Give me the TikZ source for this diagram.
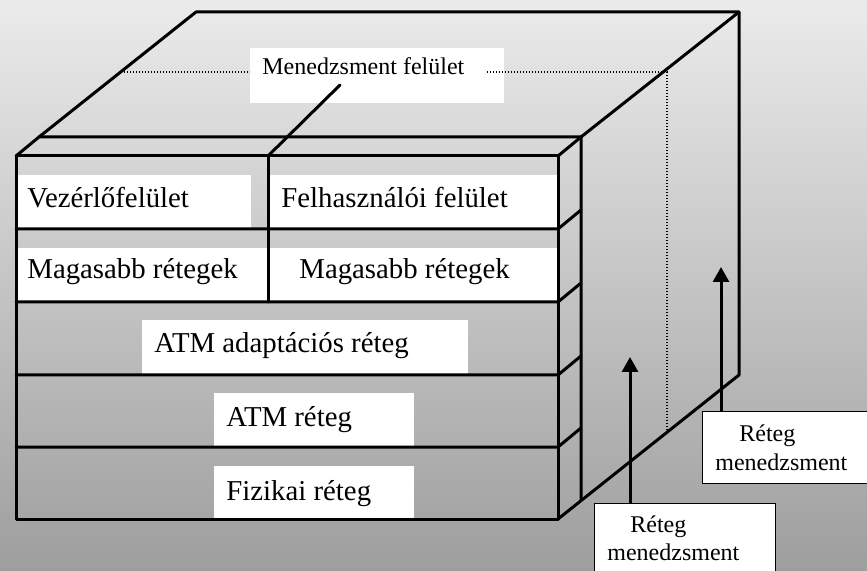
\documentclass[tikz,border=0pt]{standalone}
\usepackage{fontspec}
\setmainfont{Liberation Serif}
\usetikzlibrary{arrows.meta}
\definecolor{bgTop}{HTML}{EBEBEB}
\definecolor{bgBottom}{HTML}{9E9E9E}

\begin{document}
\begin{tikzpicture}[x=0.5pt, y=-0.5pt,
    edge/.style={line width=1.5pt, line cap=round, line join=round},
    guide/.style={line width=0.7pt, dash pattern=on 0.7pt off 0.8pt},
    plate/.style={fill=white},
    layer/.style={font=\fontsize{14.4}{17}\selectfont, anchor=base west, inner sep=0pt},
    note/.style={font=\fontsize{12}{14}\selectfont, anchor=base west, inner sep=0pt},
    mgmtbox/.style={draw, line width=0.6pt, fill=white, inner sep=0pt,
        minimum width=90.5pt, minimum height=36pt, anchor=north west},
    mgmtarrow/.style={line width=1.5pt, -{Triangle[width=8pt, length=7.5pt]}}]

    % background
    \useasboundingbox (0,0) rectangle (867,571);
    \clip (0,0) rectangle (867,571);
    \shade[top color=bgTop, bottom color=bgBottom] (0,0) rectangle (867,571);

    % white plates behind the layer names
    \fill[plate] (17,175) rectangle (251,228);
    \fill[plate] (270,175) rectangle (557,228);
    \fill[plate] (17,248) rectangle (268,301);
    \fill[plate] (270,248) rectangle (557,301);
    \fill[plate] (142,320) rectangle (468,374);
    \fill[plate] (214,393) rectangle (414,446);
    \fill[plate] (214,466) rectangle (414,518);

    % outer block: top face and right face
    \draw[edge] (39,137) -- (196,12) -- (739,12) -- (739,375) -- (558,519);
    \draw[edge] (739,12) -- (581,137);

    % layer stack, back edges
    \draw[edge] (16,156) -- (39,137) -- (581,137) -- (581,500);
    \draw[edge] (558,156) -- (581,137);

    % layer stack, front face
    \draw[edge] (16,156) rectangle (558,519);
    \foreach \y in {229,302,375,447} {
        \draw[edge] (16,\y) -- (558,\y) -- (581,\y-19);
    }
    \draw[edge] (268,156) -- (268,302);

    % management plane
    \node[plate, inner sep=0pt, minimum width=127pt, minimum height=27.5pt,
        anchor=north west] (mgmtplate) at (250,48) {};
    \draw[guide] (121,72) -- (250,72);
    \draw[guide] (487,72) -- (667,72) -- (667,433);
    \draw[edge] (268,156) -- (340,85);
    \node[note] (mgmt) at (262,75) {Menedzsment felület};

    % layer names
    \node[layer] (ctrl) at (27,208) {Vezérlőfelület};
    \node[layer] (user) at (281,208) {Felhasználói felület};
    \node[layer] (highL) at (27,279) {Magasabb rétegek};
    \node[layer] (highR) at (299,279) {Magasabb rétegek};
    \node[layer] (aal) at (154,353) {ATM adaptációs réteg};
    \node[layer] (atm) at (226,427) {ATM réteg};
    \node[layer] (phy) at (226,500) {Fizikai réteg};

    % layer management
    \node[mgmtbox] (rm1) at (594,503) {};
    \node[mgmtbox] (rm2) at (702,411) {};
    \node[note] (rm1a) at (630,532) {Réteg};
    \node[note] (rm1b) at (607,560) {menedzsment};
    \node[note] (rm2a) at (739,442) {Réteg};
    \node[note] (rm2b) at (715,470) {menedzsment};

    \coordinate (tip1) at (630,357);
    \coordinate (tip2) at (721,267);
    \draw[mgmtarrow] (rm1.north -| tip1) -- (tip1);
    \draw[mgmtarrow] (rm2.north -| tip2) -- (tip2);

\end{tikzpicture}
\end{document}
